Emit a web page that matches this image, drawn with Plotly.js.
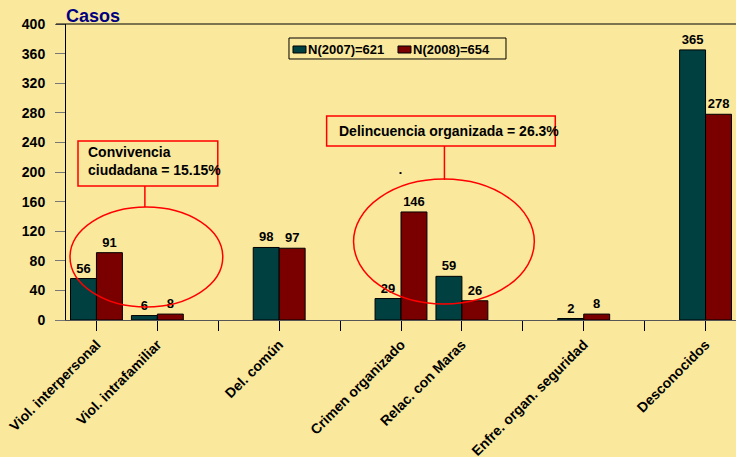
<!DOCTYPE html>
<html>
<head>
<meta charset="utf-8">
<script src="https://cdn.plot.ly/plotly-3.0.1.min.js"></script>
<style>html,body{margin:0;padding:0;background:#FAE89D;}#chart{width:736px;height:457px;}</style>
</head>
<body>
<div id="chart"></div>
<script>
const categories = ["Viol. interpersonal", "Viol. intrafamiliar", "", "Del. común", "", "Crimen organizado", "Relac. con Maras", "", "Enfre. organ. seguridad", "", "Desconocidos"];
const values2007 = [56, 6, null, 98, null, 29, 59, null, 2, null, 365];
const values2008 = [91, 8, null, 97, null, 146, 26, null, 8, null, 278];
const seriesNames = ["N(2007)=621", "N(2008)=654"];
const seriesColors = ["#004040", "#7A0000"];
const yTicks = [0, 40, 80, 120, 160, 200, 240, 280, 320, 360, 400];

const idx = categories.map((c, i) => i);
const FONT = "Liberation Sans, Arial, sans-serif";
const BG = "#FAE89D";

function barTrace(vals, name, color) {
  return {
    type: "bar", x: idx, y: vals, name: name,
    marker: {color: color, line: {color: "#000", width: 1}},
    text: vals.map(v => v === null ? "" : String(v)),
    textposition: "outside", cliponaxis: false,
    textfont: {family: FONT, size: 13, color: "#000", weight: "bold"},
    hoverinfo: "skip", showlegend: false
  };
}

const data = [
  barTrace(values2007, seriesNames[0], seriesColors[0]),
  barTrace(values2008, seriesNames[1], seriesColors[1]),
  {type: "scatter", x: [], y: [], yaxis: "y2", showlegend: false, hoverinfo: "skip"}
];

// legend box drawn in paper coordinates
const legendShapes = [
  {type: "rect", xref: "paper", yref: "paper", x0: 0.3328, x1: 0.6567, y0: 0.8818, y1: 0.9527, line: {color: "#000", width: 1}, fillcolor: "rgba(0,0,0,0)"},
  {type: "rect", xref: "paper", yref: "paper", x0: 0.3388, x1: 0.3582, y0: 0.9020, y1: 0.9257, line: {color: "#000", width: 1}, fillcolor: seriesColors[0]},
  {type: "rect", xref: "paper", yref: "paper", x0: 0.4955, x1: 0.5149, y0: 0.9020, y1: 0.9257, line: {color: "#000", width: 1}, fillcolor: seriesColors[1]}
];
const legendAnns = [
  {text: seriesNames[0], xref: "paper", yref: "paper", x: 0.3582, y: 0.9155, xanchor: "left", yanchor: "middle", showarrow: false,
   font: {family: FONT, size: 13, color: "#000", weight: "bold"}},
  {text: seriesNames[1], xref: "paper", yref: "paper", x: 0.5149, y: 0.9155, xanchor: "left", yanchor: "middle", showarrow: false,
   font: {family: FONT, size: 13, color: "#000", weight: "bold"}}
];

const layout = {
  width: 736, height: 457,
  margin: {l: 66, r: 0, t: 24, b: 137},
  paper_bgcolor: BG, plot_bgcolor: BG,
  barmode: "group", bargap: 0.148, bargroupgap: 0,
  font: {family: FONT, color: "#000"},
  showlegend: false,
  xaxis: {
    range: [-0.5, 10.5], tickmode: "array", tickvals: idx, ticktext: categories,
    tickangle: -45, ticks: "outside", ticklen: 10, tickcolor: "#000",
    showline: true, linecolor: "#555", linewidth: 1, showgrid: false, zeroline: false,
    tickfont: {family: FONT, size: 14, weight: "bold"}, fixedrange: true
  },
  yaxis: {
    range: [0, 400], tickmode: "array", tickvals: yTicks, showticklabels: false,
    ticks: "outside", ticklen: 10, tickcolor: "#777",
    showline: true, linecolor: "#000", linewidth: 1, showgrid: false, zeroline: false,
    fixedrange: true
  },
  yaxis2: {
    overlaying: "y", side: "left", anchor: "x",
    range: [0, 400], tickmode: "array", tickvals: yTicks,
    ticks: "outside", ticklen: 17, tickcolor: "rgba(0,0,0,0)",
    showline: false, showgrid: false, zeroline: false,
    tickfont: {family: FONT, size: 14, weight: "bold", color: "#000"}, fixedrange: true
  },
  shapes: [
    {type: "line", xref: "paper", yref: "paper", x0: -0.015, x1: 1, y0: 1, y1: 1, line: {color: "#000", width: 1}},
    {type: "rect", xref: "x", yref: "y", x0: -0.303, x1: 1.992, y0: 181.1, y1: 241.9, line: {color: "#FF0000", width: 1.5}},
    {type: "line", xref: "x", yref: "y", x0: 0.795, x1: 0.795, y0: 152.7, y1: 181.1, line: {color: "#FF0000", width: 1.5}},
    {type: "circle", xref: "x", yref: "y", x0: -0.434, x1: 2.074, y0: 17.6, y1: 152.7, line: {color: "#FF0000", width: 1.5}},
    {type: "rect", xref: "x", yref: "y", x0: 3.779, x1: 7.533, y0: 235.1, y1: 275.7, line: {color: "#FF0000", width: 1.5}},
    {type: "line", xref: "x", yref: "y", x0: 5.713, x1: 5.713, y0: 189.2, y1: 235.1, line: {color: "#FF0000", width: 1.5}},
    {type: "circle", xref: "x", yref: "y", x0: 4.221, x1: 7.189, y0: 21.6, y1: 190.5, line: {color: "#FF0000", width: 1.5}},
    {type: "rect", xref: "x", yref: "y", x0: 4.976, x1: 5.008, y0: 197.3, y1: 199.9, line: {width: 0}, fillcolor: "#000"}
  ].concat(legendShapes),
  annotations: [
    {text: "Casos", xref: "paper", yref: "paper", x: -0.003, y: 1.027, xanchor: "left", yanchor: "middle", showarrow: false,
     font: {family: FONT, size: 18, color: "#000080", weight: "bold"}},
    {text: "Convivencia<br>ciudadana = 15.15%", xref: "x", yref: "y", x: -0.172, y: 214.2, xanchor: "left", yanchor: "middle", align: "left", showarrow: false,
     font: {family: FONT, size: 14, color: "#000", weight: "bold"}},
    {text: "Delincuencia organizada = 26.3%", xref: "x", yref: "y", x: 3.948, y: 255.4, xanchor: "left", yanchor: "middle", align: "left", showarrow: false,
     font: {family: FONT, size: 14, color: "#000", weight: "bold"}}
  ].concat(legendAnns)
};

Plotly.newPlot("chart", data, layout, {displayModeBar: false, staticPlot: true});
</script>
</body>
</html>
